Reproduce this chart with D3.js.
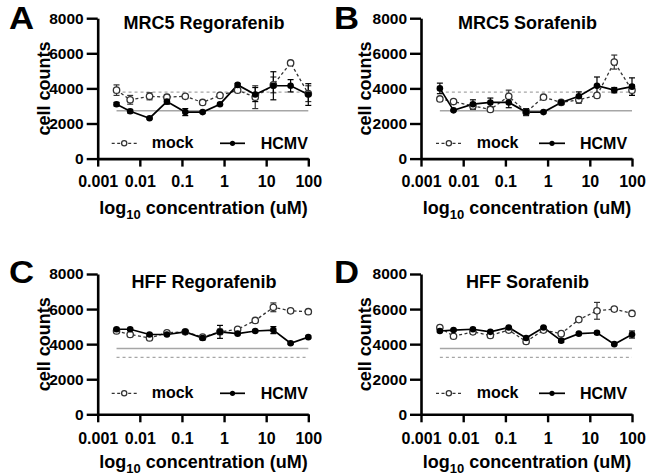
<!DOCTYPE html>
<html>
<head>
<meta charset="utf-8">
<script src="https://cdn.jsdelivr.net/npm/d3@7"></script>
<style>
  body { margin: 0; background: #fff; }
  svg { display: block; font-family: "Liberation Sans", Arial, Helvetica, sans-serif; }
  text { font-weight: bold; fill: #000; }
</style>
</head>
<body>
<svg id="chart" width="646" height="475"></svg>
<script>
// ---------- data ----------
const concentrations = [0.0028, 0.0059, 0.017, 0.044, 0.12, 0.31, 0.8, 2.1, 5.5, 14.8, 38, 100];
const xTickValues = [0.001, 0.01, 0.1, 1, 10, 100];
const yTickValues = [0, 2000, 4000, 6000, 8000];
const panelLetters = ["A", "B", "C", "D"];
const panelTitles = ["MRC5 Regorafenib", "MRC5 Sorafenib", "HFF Regorafenib", "HFF Sorafenib"];
const seriesNames = ["mock", "HCMV"];

const mrc5RegoMock   = [3900, 3350, 3550, 3500, 3550, 3200, 3600, 3900, 3500, 4200, 5450, 3700];
const mrc5RegoMockSd = [300, 250, 200, 150, 60, 100, 60, 100, 650, 450, 60, 450];
const mrc5RegoHcmv   = [3100, 2700, 2300, 3250, 2650, 2650, 3100, 4200, 3650, 4150, 4150, 3650];
const mrc5RegoHcmvSd = [100, 100, 50, 150, 200, 60, 60, 80, 400, 800, 350, 620];

const mrc5SoraMock   = [3400, 3250, 3000, 2800, 3550, 2650, 3500, 3200, 3350, 3600, 5500, 3900];
const mrc5SoraMockSd = [60, 80, 200, 100, 350, 100, 80, 100, 200, 100, 400, 300];
const mrc5SoraHcmv   = [4000, 2750, 3100, 3200, 3200, 2650, 2650, 3200, 3550, 4150, 3900, 4100];
const mrc5SoraHcmvSd = [300, 40, 250, 250, 300, 200, 40, 100, 250, 500, 150, 500];

const hffRegoMock   = [4750, 4550, 4350, 4650, 4700, 4400, 4700, 4850, 5350, 6100, 5900, 5850];
const hffRegoMockSd = [80, 80, 80, 80, 80, 80, 150, 80, 80, 250, 80, 80];
const hffRegoHcmv   = [4850, 4850, 4550, 4550, 4700, 4350, 4700, 4600, 4750, 4800, 4050, 4400];
const hffRegoHcmvSd = [60, 60, 60, 60, 60, 100, 370, 60, 60, 200, 60, 60];

const hffSoraMock   = [4950, 4450, 4700, 4500, 4800, 4150, 4800, 4600, 5400, 5900, 6000, 5750];
const hffSoraMockSd = [60, 60, 60, 100, 60, 60, 60, 60, 60, 480, 80, 60];
const hffSoraHcmv   = [4750, 4800, 4850, 4700, 4950, 4350, 4950, 4200, 4600, 4650, 4000, 4550];
const hffSoraHcmvSd = [50, 50, 50, 50, 50, 60, 50, 100, 60, 80, 50, 200];

// reference (control) levels: [solid, dashed]
const mrc5RefLevels = [2730, 3790];
const hffRefLevels  = [3750, 3250];

// ---------- layout ----------
const cols = [
  { x0: 97.7, x1: 308.3, letterX: 9, yTitleX: 50,
    legMock: [111.7, 136.7, 151.7], legHcmv: [220, 245, 260.7] },
  { x0: 421, x1: 632, letterX: 334, yTitleX: 371,
    legMock: [436, 461.7, 476.7], legHcmv: [539, 565, 580] }
];
const rows = [
  { yTop: 18.2, yBot: 158.6, titleY: 29.3, letterY: 28.5, xLabelY: 187, xTitleY: 213.5, legY: 143.3 },
  { yTop: 274, yBot: 414.3, titleY: 288.3, letterY: 282.5, xLabelY: 444, xTitleY: 467.5, legY: 393.3 }
];

const panelData = [
  { mock: mrc5RegoMock, mockSd: mrc5RegoMockSd, hcmv: mrc5RegoHcmv, hcmvSd: mrc5RegoHcmvSd, ref: mrc5RefLevels },
  { mock: mrc5SoraMock, mockSd: mrc5SoraMockSd, hcmv: mrc5SoraHcmv, hcmvSd: mrc5SoraHcmvSd, ref: mrc5RefLevels },
  { mock: hffRegoMock, mockSd: hffRegoMockSd, hcmv: hffRegoHcmv, hcmvSd: hffRegoHcmvSd, ref: hffRefLevels },
  { mock: hffSoraMock, mockSd: hffSoraMockSd, hcmv: hffSoraHcmv, hcmvSd: hffSoraHcmvSd, ref: hffRefLevels }
];

const svg = d3.select("#chart");
const MOCK_COLOR = "#333";
const REF_COLOR = "#a6a6a6";

panelData.forEach((pd, i) => {
  const col = cols[i % 2];
  const row = rows[Math.floor(i / 2)];
  const g = svg.append("g");

  const x = d3.scaleLog().domain([0.001, 100]).range([col.x0, col.x1]);
  const y = d3.scaleLinear().domain([0, 8000]).range([row.yBot, row.yTop]);

  // panel letter
  g.append("text")
    .attr("transform", `translate(${col.letterX},${row.letterY}) scale(1.12,1)`)
    .style("font-size", "31px").text(panelLetters[i]);

  // title
  g.append("text").attr("x", (col.x0 + col.x1) / 2 + 1).attr("y", row.titleY)
    .attr("text-anchor", "middle").style("font-size", "18px").text(panelTitles[i]);

  // y axis title
  g.append("text")
    .attr("transform", `translate(${col.yTitleX},${(row.yTop + row.yBot) / 2}) rotate(-90)`)
    .attr("text-anchor", "middle").style("font-size", "18px").text("cell counts");

  // x axis title
  const xt = g.append("text").attr("x", (col.x0 + col.x1) / 2 + 0.5).attr("y", row.xTitleY)
    .attr("text-anchor", "middle").style("font-size", "18px");
  xt.append("tspan").text("log");
  xt.append("tspan").attr("dy", 5).style("font-size", "13px").text("10");
  xt.append("tspan").attr("dy", -5).text(" concentration (uM)");

  // reference lines
  const xr0 = x(concentrations[0]), xr1 = x(concentrations[concentrations.length - 1]);
  g.append("line").attr("x1", xr0).attr("x2", xr1)
    .attr("y1", y(pd.ref[0])).attr("y2", y(pd.ref[0]))
    .attr("stroke", REF_COLOR).attr("stroke-width", 1.5);
  g.append("line").attr("x1", xr0).attr("x2", xr1)
    .attr("y1", y(pd.ref[1])).attr("y2", y(pd.ref[1]))
    .attr("stroke", REF_COLOR).attr("stroke-width", 1.3).attr("stroke-dasharray", "3,3");

  // axes
  const yAxis = d3.axisLeft(y).tickValues(yTickValues).tickFormat(d3.format("d"))
    .tickSizeInner(11).tickSizeOuter(0).tickPadding(3);
  const ya = g.append("g").attr("transform", `translate(${col.x0},0)`).call(yAxis);
  ya.selectAll("text").style("font-size", "15.5px").style("font-family", "inherit");

  const xAxis = d3.axisBottom(x).tickValues(xTickValues).tickFormat(d => String(d))
    .tickSizeInner(8).tickSizeOuter(0);
  const xa = g.append("g").attr("transform", `translate(0,${row.yBot})`).call(xAxis);
  xa.selectAll("text").style("font-size", "16px").style("font-family", "inherit")
    .attr("y", row.xLabelY - row.yBot).attr("dy", 0);
  [ya, xa].forEach(a => {
    a.select(".domain").attr("stroke", "#000").attr("stroke-width", 2.6);
    a.selectAll(".tick line").attr("stroke", "#000").attr("stroke-width", 2.4);
  });

  // series
  const lineGen = d3.line().x((d, k) => x(concentrations[k])).y(d => y(d));
  g.append("path").datum(pd.mock).attr("d", lineGen).attr("fill", "none")
    .attr("stroke", MOCK_COLOR).attr("stroke-width", 1.3).attr("stroke-dasharray", "3,2.5");
  g.append("path").datum(pd.hcmv).attr("d", lineGen).attr("fill", "none")
    .attr("stroke", "#000").attr("stroke-width", 1.7);

  // error bars
  function errBars(vals, sds, color) {
    vals.forEach((v, k) => {
      const cx = x(concentrations[k]);
      const yt = y(v + sds[k]), yb = y(v - sds[k]);
      g.append("line").attr("x1", cx).attr("x2", cx).attr("y1", yt).attr("y2", yb)
        .attr("stroke", color).attr("stroke-width", 1.2);
      [yt, yb].forEach(yy => g.append("line").attr("x1", cx - 3).attr("x2", cx + 3)
        .attr("y1", yy).attr("y2", yy).attr("stroke", color).attr("stroke-width", 1.2));
    });
  }
  errBars(pd.mock, pd.mockSd, MOCK_COLOR);
  errBars(pd.hcmv, pd.hcmvSd, "#000");

  // markers
  g.selectAll(null).data(pd.mock).join("circle")
    .attr("cx", (d, k) => x(concentrations[k])).attr("cy", d => y(d)).attr("r", 3.2)
    .attr("fill", "#fff").attr("stroke", MOCK_COLOR).attr("stroke-width", 1.3);
  g.selectAll(null).data(pd.hcmv).join("circle")
    .attr("cx", (d, k) => x(concentrations[k])).attr("cy", d => y(d)).attr("r", 3.3)
    .attr("fill", "#000");

  // legend
  const ly = row.legY;
  g.append("line").attr("x1", col.legMock[0]).attr("x2", col.legMock[1]).attr("y1", ly).attr("y2", ly)
    .attr("stroke", MOCK_COLOR).attr("stroke-width", 1.3).attr("stroke-dasharray", "3,2.5");
  g.append("circle").attr("cx", (col.legMock[0] + col.legMock[1]) / 2).attr("cy", ly).attr("r", 2.6)
    .attr("fill", "#fff").attr("stroke", MOCK_COLOR).attr("stroke-width", 1.3);
  g.append("text").attr("x", col.legMock[2]).attr("y", ly + 5).style("font-size", "16px").text(seriesNames[0]);
  g.append("line").attr("x1", col.legHcmv[0]).attr("x2", col.legHcmv[1]).attr("y1", ly).attr("y2", ly)
    .attr("stroke", "#000").attr("stroke-width", 1.7);
  g.append("circle").attr("cx", (col.legHcmv[0] + col.legHcmv[1]) / 2).attr("cy", ly).attr("r", 2.6)
    .attr("fill", "#000");
  g.append("text").attr("x", col.legHcmv[2]).attr("y", ly + 5.8).style("font-size", "16px").text(seriesNames[1]);
});
</script>
</body>
</html>
